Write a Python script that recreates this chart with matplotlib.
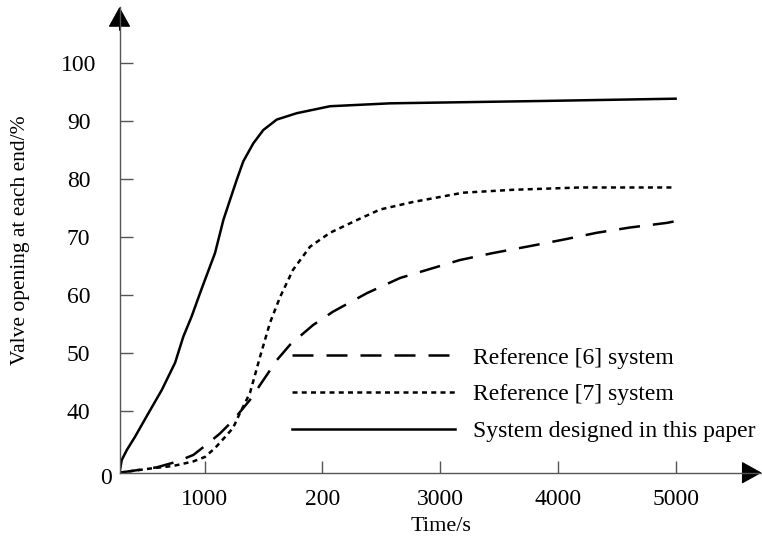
import matplotlib
matplotlib.use("Agg")
import matplotlib.pyplot as plt
import numpy as np
from matplotlib.patches import FancyArrowPatch

plt.rcParams["font.family"] = ["Liberation Serif", "DejaVu Serif"]

# values (time in s, valve opening in %)
time_ref6 = [278, 594, 764, 905, 1013, 1131, 1245, 1386, 1616, 1726, 1922, 2091,
             2380, 2660, 2889, 3169, 3449, 3738, 4044, 4332, 4612, 4926, 5000]
open_ref6 = [0, 3.5, 7.2, 11.6, 18.1, 25.6, 34.4, 42.0, 48.9, 51.5, 54.9, 57.2,
             60.4, 63.0, 64.4, 66.1, 67.3, 68.4, 69.6, 70.8, 71.7, 72.5, 72.8]

time_ref7 = [278, 537, 733, 902, 1004, 1089, 1174, 1242, 1301, 1386, 1471, 1556,
             1641, 1751, 1896, 2066, 2295, 2490, 2770, 3195, 3619, 4188, 5000]
open_ref7 = [0, 2.7, 4.4, 7.3, 10.3, 16.1, 23.3, 29.2, 39.0, 43.2, 49.4, 55.3,
             59.7, 64.4, 68.4, 70.8, 73.0, 74.8, 76.1, 77.7, 78.2, 78.6, 78.6]

time_ours = [278, 297, 340, 410, 523, 637, 750, 820, 891, 962, 1004, 1089, 1160,
             1217, 1273, 1329, 1414, 1499, 1613, 1783, 2066, 2575, 3848, 5000]
open_ours = [0, 8.3, 14.8, 23.5, 38.8, 43.7, 48.4, 52.9, 56.4, 60.4, 62.7, 67.3,
             73.0, 76.5, 79.9, 83.1, 86.2, 88.5, 90.3, 91.4, 92.6, 93.1, 93.5, 93.9]

labels = ["Reference [6] system", "Reference [7] system", "System designed in this paper"]
x_ticks = [1000, 2000, 3000, 4000, 5000]
x_tick_labels = ["1000", "200", "3000", "4000", "5000"]
y_ticks = [40, 50, 60, 70, 80, 90, 100]

# the axis between 0 and 40 is squeezed into a short segment
BREAK = 40.0
BOTTOM = 29.45


def fwd(y):
    y = np.asarray(y, dtype=float)
    return np.where(y < BREAK, BOTTOM + y * (BREAK - BOTTOM) / BREAK, y)


def inv(v):
    v = np.asarray(v, dtype=float)
    return np.where(v < BREAK, (v - BOTTOM) * BREAK / (BREAK - BOTTOM), v)


W, H = 762, 538
fig = plt.figure(figsize=(W / 100, H / 100), dpi=100)
x0, x1, y0, y1 = 119.5, 761.7, 472.7, 7.0
ax = fig.add_axes([x0 / W, 1 - y0 / H, (x1 - x0) / W, (y0 - y1) / H])
ax.set_yscale("function", functions=(fwd, inv))

lw = 1.8
l6, = ax.plot(time_ref6, open_ref6, color="black", lw=lw, dashes=(8.4, 5.2))
l7, = ax.plot(time_ref7, open_ref7, color="black", lw=lw, dashes=(2.0, 1.7))
lo, = ax.plot(time_ours, open_ours, color="black", lw=lw)

ax.set_xlim(278, 5731)
ax.set_ylim(0, 109.7)

for side in ("top", "right"):
    ax.spines[side].set_visible(False)
axis_grey = "#555555"
for side in ("left", "bottom"):
    ax.spines[side].set_color(axis_grey)
    ax.spines[side].set_linewidth(1.0)

fs = 17
ax.set_xticks(x_ticks)
ax.set_xticklabels(x_tick_labels)
ax.set_yticks(y_ticks)
ax.set_yticklabels([str(v) for v in y_ticks])
ax.minorticks_off()
ax.tick_params(axis="both", direction="in", length=9, width=1.0, color=axis_grey,
               labelsize=fs, labelcolor="black")
ax.tick_params(axis="x", pad=12)
ax.tick_params(axis="y", pad=29.5)
for lbl in ax.get_yticklabels():
    lbl.set_horizontalalignment("center")

ax.annotate("0", xy=(0, 0), xycoords="axes fraction", xytext=(-9.7, -4.5),
            textcoords="offset points", ha="center", va="center", fontsize=fs)

# arrow heads on both axes
for start, end in (((0, 0.95), (0, 1)), ((0.97, 0), (1, 0))):
    ax.add_patch(FancyArrowPatch(start, end, transform=ax.transAxes,
                                 arrowstyle="-|>,head_length=1.3,head_width=0.72",
                                 mutation_scale=10, color="black", lw=0.8,
                                 shrinkA=0, shrinkB=0, clip_on=False))

ax.set_xlabel("Time/s", fontsize=16)
ax.set_ylabel("Valve opening at each end/%", fontsize=15.5)
ax.xaxis.set_label_coords(0.5, -0.096)
ax.yaxis.set_label_coords(-0.14, 0.5)

ax.legend([l6, l7, lo], labels, loc="upper left", bbox_to_anchor=(292 / W, 1 - 347 / H),
          bbox_transform=fig.transFigure, frameon=False, borderpad=0, borderaxespad=0,
          handlelength=6.9, handletextpad=0.76, labelspacing=0.65, fontsize=fs)

fig.savefig("out.png", dpi=100)
